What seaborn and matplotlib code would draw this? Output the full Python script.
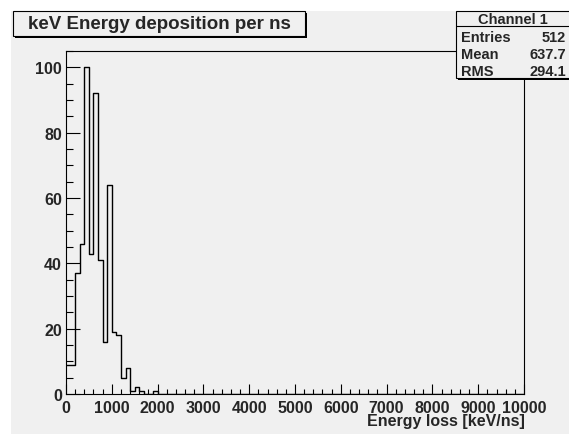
import numpy as np
import pandas as pd
import matplotlib
matplotlib.use("Agg")
import matplotlib.pyplot as plt
from matplotlib.patches import Rectangle
from matplotlib.ticker import MultipleLocator
import seaborn as sns

# histogram: 100 bins of 100 keV/ns from 0 to 10000, only the first 20 are non-empty
bin_lows = np.arange(0, 2000, 100)
counts = [9, 9, 37, 46, 100, 43, 92, 41, 16, 64, 19, 18, 5, 8, 1, 2, 1, 0, 0, 1]

title = "keV Energy deposition per ns"
xlabel = "Energy loss [keV/ns]"
stats_name = "Channel 1"
stats_labels = ["Entries", "Mean", "RMS"]
stats_values = ["512", "637.7", "294.1"]

df = pd.DataFrame({"energy": bin_lows + 50, "n": counts})

W, H = 569, 435
bg = "#f0f0f0"

sns.set_style("white")
plt.rcParams["font.family"] = ["Liberation Sans", "DejaVu Sans"]
plt.rcParams["font.weight"] = "bold"

fig = plt.figure(figsize=(W / 100, H / 100), dpi=100, facecolor="white")


def fx(px):
    return px / W


def fy(py):
    # pixel y measured from the top
    return 1 - py / H


def box(x0, y0, x1, y1, shadow=2):
    fig.patches.append(Rectangle((fx(x0 + shadow), fy(y1 + shadow)), fx(x1 - x0), (y1 - y0) / H,
                                 transform=fig.transFigure, facecolor="black", edgecolor="none", zorder=5))
    fig.patches.append(Rectangle((fx(x0), fy(y1)), fx(x1 - x0), (y1 - y0) / H,
                                 transform=fig.transFigure, facecolor=bg, edgecolor="black", lw=0.8, zorder=6))


# grey canvas
fig.patches.append(Rectangle((fx(11), 0), 1, fy(12), transform=fig.transFigure,
                             facecolor=bg, edgecolor="none", zorder=-5))

ax = fig.add_axes([fx(66), fy(395), fx(524 - 66), (395 - 52) / H])
ax.set_facecolor(bg)

sns.histplot(data=df, x="energy", weights="n", binwidth=100, binrange=(0, 10000),
             element="step", fill=False, color="black", linewidth=1.0, ax=ax)

ax.set_xlim(0, 10000)
ax.set_ylim(0, 105)
ax.set_xlabel("")
ax.set_ylabel("")
ax.xaxis.set_major_locator(MultipleLocator(1000))
ax.xaxis.set_minor_locator(MultipleLocator(200))
ax.yaxis.set_major_locator(MultipleLocator(20))
ax.yaxis.set_minor_locator(MultipleLocator(5))
ax.tick_params(axis="both", which="both", direction="in", color="black", width=0.8,
               labelsize=11.5, top=False, right=False, bottom=True, left=True)
ax.tick_params(axis="x", which="major", length=7.2, pad=4)
ax.tick_params(axis="x", which="minor", length=3.6)
ax.tick_params(axis="y", which="major", length=10, pad=3)
ax.tick_params(axis="y", which="minor", length=5)
for lab in ax.get_xticklabels() + ax.get_yticklabels():
    lab.set_fontweight("bold")
for sp in ax.spines.values():
    sp.set_color("black")
    sp.set_linewidth(0.8)

fig.text(fx(525), fy(422), xlabel, ha="right", va="center", fontsize=11.5, fontweight="bold")

# title box
box(13, 12, 305, 37)
fig.text(fx(159), fy(24.5), title, ha="center", va="center", fontsize=13.5, fontweight="bold", zorder=7)

# stats box
box(456, 12, 575, 79)
fig.lines.append(plt.Line2D([fx(456), 1], [fy(27), fy(27)], transform=fig.transFigure,
                            color="black", lw=0.8, zorder=7))
fig.text(fx(513), fy(20), stats_name, ha="center", va="center", fontsize=10.5, fontweight="bold", zorder=7)
for i, (lab, val) in enumerate(zip(stats_labels, stats_values)):
    y = 38.5 + i * 16.5
    fig.text(fx(461), fy(y), lab, ha="left", va="center", fontsize=10.5, fontweight="bold", zorder=7)
    fig.text(fx(566), fy(y), val, ha="right", va="center", fontsize=10.5, fontweight="bold", zorder=7)

fig.savefig("out.png", dpi=100, facecolor=fig.get_facecolor())
